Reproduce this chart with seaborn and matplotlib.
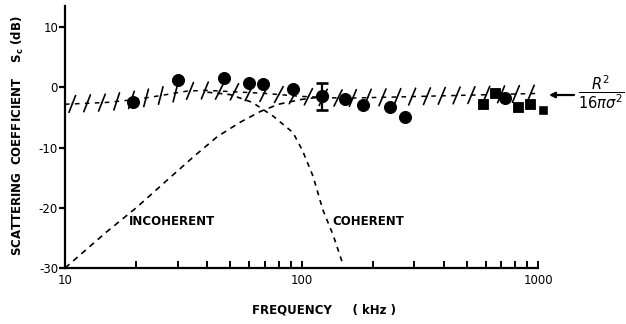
import matplotlib
matplotlib.use("Agg")
import matplotlib.pyplot as plt
import matplotlib.patheffects as pe
from matplotlib.ticker import FixedLocator, NullFormatter
import numpy as np
import pandas as pd
import seaborn as sns

sns.set_style("ticks")
plt.rcParams["font.family"] = ["DejaVu Sans"]
plt.rcParams["mathtext.fontset"] = "dejavusans"

# ---------------- data ----------------
circ_f = [19.4, 30, 47, 60, 68.7, 92, 153, 182, 237, 274, 725]
circ_db = [-2.5, 1.2, 1.5, 0.7, 0.5, -0.3, -2.0, -3.0, -3.2, -4.9, -1.7]
sq_f = [585, 658, 822, 925]
sq_db = [-2.7, -0.9, -3.2, -2.7]
small_sq_f = [1045]
small_sq_db = [-3.7]
err_f = [122]
err_db = [-1.5]
err_half = [2.3]

band_f = [10, 15, 20, 25, 33, 40, 50, 70, 100, 150, 250, 500, 1000]
band_db = [-2.8, -2.5, -2.0, -1.4, -0.6, -0.5, -0.7, -1.0, -1.5, -1.8, -1.6, -1.3, -1.0]

inc_f = [10, 15, 20, 26, 35, 44, 55, 67, 80, 100, 120]
inc_db = [-30, -24.0, -20.0, -16.0, -11.5, -8.2, -5.8, -4.0, -2.8, -2.0, -1.6]

coh_f = [40, 50, 62, 76, 92, 101, 112, 123, 136, 150]
coh_db = [-0.8, -1.2, -2.5, -4.8, -7.5, -10.5, -14.8, -20.3, -24.5, -29.5]

x_major = [10, 100, 1000]
x_major_labels = ["10", "100", "1000"]
x_minor = [20, 30, 40, 50, 60, 70, 80, 90, 200, 300, 400, 500, 600, 700, 800, 900]
y_ticks = [10, 0, -10, -20, -30]
y_tick_labels = ["10", "0", "-10", "-20", "-30"]

# ---------------- figure ----------------
fig = plt.figure(figsize=(6.26, 3.24), dpi=100)
ax = fig.add_axes([65 / 626, 1 - 268 / 324, 473 / 626, 262.5 / 324])

band = pd.DataFrame({"f": band_f, "db": band_db})
inc = pd.DataFrame({"f": inc_f, "db": inc_db})
coh = pd.DataFrame({"f": coh_f, "db": coh_db})

# hatched band: short slashes crossing the center line
sns.lineplot(data=band, x="f", y="db", ax=ax, color="black", lw=1.1, zorder=2)
ax.lines[-1].set_path_effects([
    pe.TickedStroke(spacing=10.5, angle=66, length=0.62, linewidth=1.2),
    pe.TickedStroke(spacing=10.5, angle=-114, length=0.62, linewidth=1.2),
])
# dashed centre line of the band
sns.lineplot(data=band, x="f", y="db", ax=ax, color="black", lw=1.1, zorder=2)
ax.lines[-1].set_dashes([3, 3.5])

# incoherent and coherent curves
sns.lineplot(data=inc, x="f", y="db", ax=ax, color="black", lw=1.2, zorder=2)
ax.lines[-1].set_dashes([3.5, 3])
sns.lineplot(data=coh, x="f", y="db", ax=ax, color="black", lw=1.2, zorder=2)
ax.lines[-1].set_dashes([3, 3])

# data points
sns.scatterplot(x=circ_f, y=circ_db, ax=ax, marker="o", s=75, color="black",
                edgecolor="black", zorder=4)
sns.scatterplot(x=sq_f, y=sq_db, ax=ax, marker="s", s=58, color="black",
                edgecolor="black", zorder=4)
sns.scatterplot(x=small_sq_f, y=small_sq_db, ax=ax, marker="s", s=28, color="black",
                edgecolor="black", zorder=4, clip_on=False)
ax.errorbar(err_f, err_db, yerr=err_half, fmt="o", ms=8.5, color="black",
            ecolor="black", elinewidth=1.6, capsize=4.5, capthick=1.9, zorder=4)

# axes & scales
ax.set_xscale("log")
ax.set_xlim(10, 1000)
ax.set_ylim(-30, 13.6)
ax.xaxis.set_major_locator(FixedLocator(x_major))
ax.set_xticklabels(x_major_labels)
ax.xaxis.set_minor_locator(FixedLocator(x_minor))
ax.xaxis.set_minor_formatter(NullFormatter())
ax.set_yticks(y_ticks)
ax.set_yticklabels(y_tick_labels)

ax.tick_params(axis="x", which="both", direction="in", length=5, width=1.4,
               labelsize=8.5, pad=4, colors="black")
ax.tick_params(axis="y", which="major", direction="out", length=4, width=1.6,
               labelsize=8.5, pad=1, colors="black")

sns.despine(ax=ax)
for s in ["left", "bottom"]:
    ax.spines[s].set_linewidth(1.6)
    ax.spines[s].set_color("black")

ax.set_xlabel("")
ax.set_ylabel("")

# annotations
lbl = dict(fontsize=8.5, fontweight="bold", color="black")
ax.text(0.134, 0.176, "INCOHERENT", transform=ax.transAxes, ha="left", va="center", **lbl)
ax.text(0.566, 0.176, "COHERENT", transform=ax.transAxes, ha="left", va="center", **lbl)

fig.text(18 / 626, 1 - 136 / 324, "SCATTERING  COEFFICIENT    S$_\\mathbf{c}$ (dB)",
         rotation=90, ha="center", va="center", **lbl)
fig.text(324 / 626, 1 - 310 / 324, "FREQUENCY     ( kHz )", ha="center", va="center", **lbl)

ax.annotate("", xy=(549 / 626, 1 - 95 / 324), xycoords="figure fraction",
            xytext=(574 / 626, 1 - 95 / 324), textcoords="figure fraction",
            arrowprops=dict(arrowstyle="-|>", color="black", lw=1.6,
                            mutation_scale=8, shrinkA=0, shrinkB=0),
            annotation_clip=False)
fig.text(601 / 626, 1 - 92 / 324, r"$\dfrac{R^2}{16\pi\sigma^2}$", ha="center",
         va="center", fontsize=10.5, color="black")

fig.savefig("out.png", dpi=100, facecolor="white")
